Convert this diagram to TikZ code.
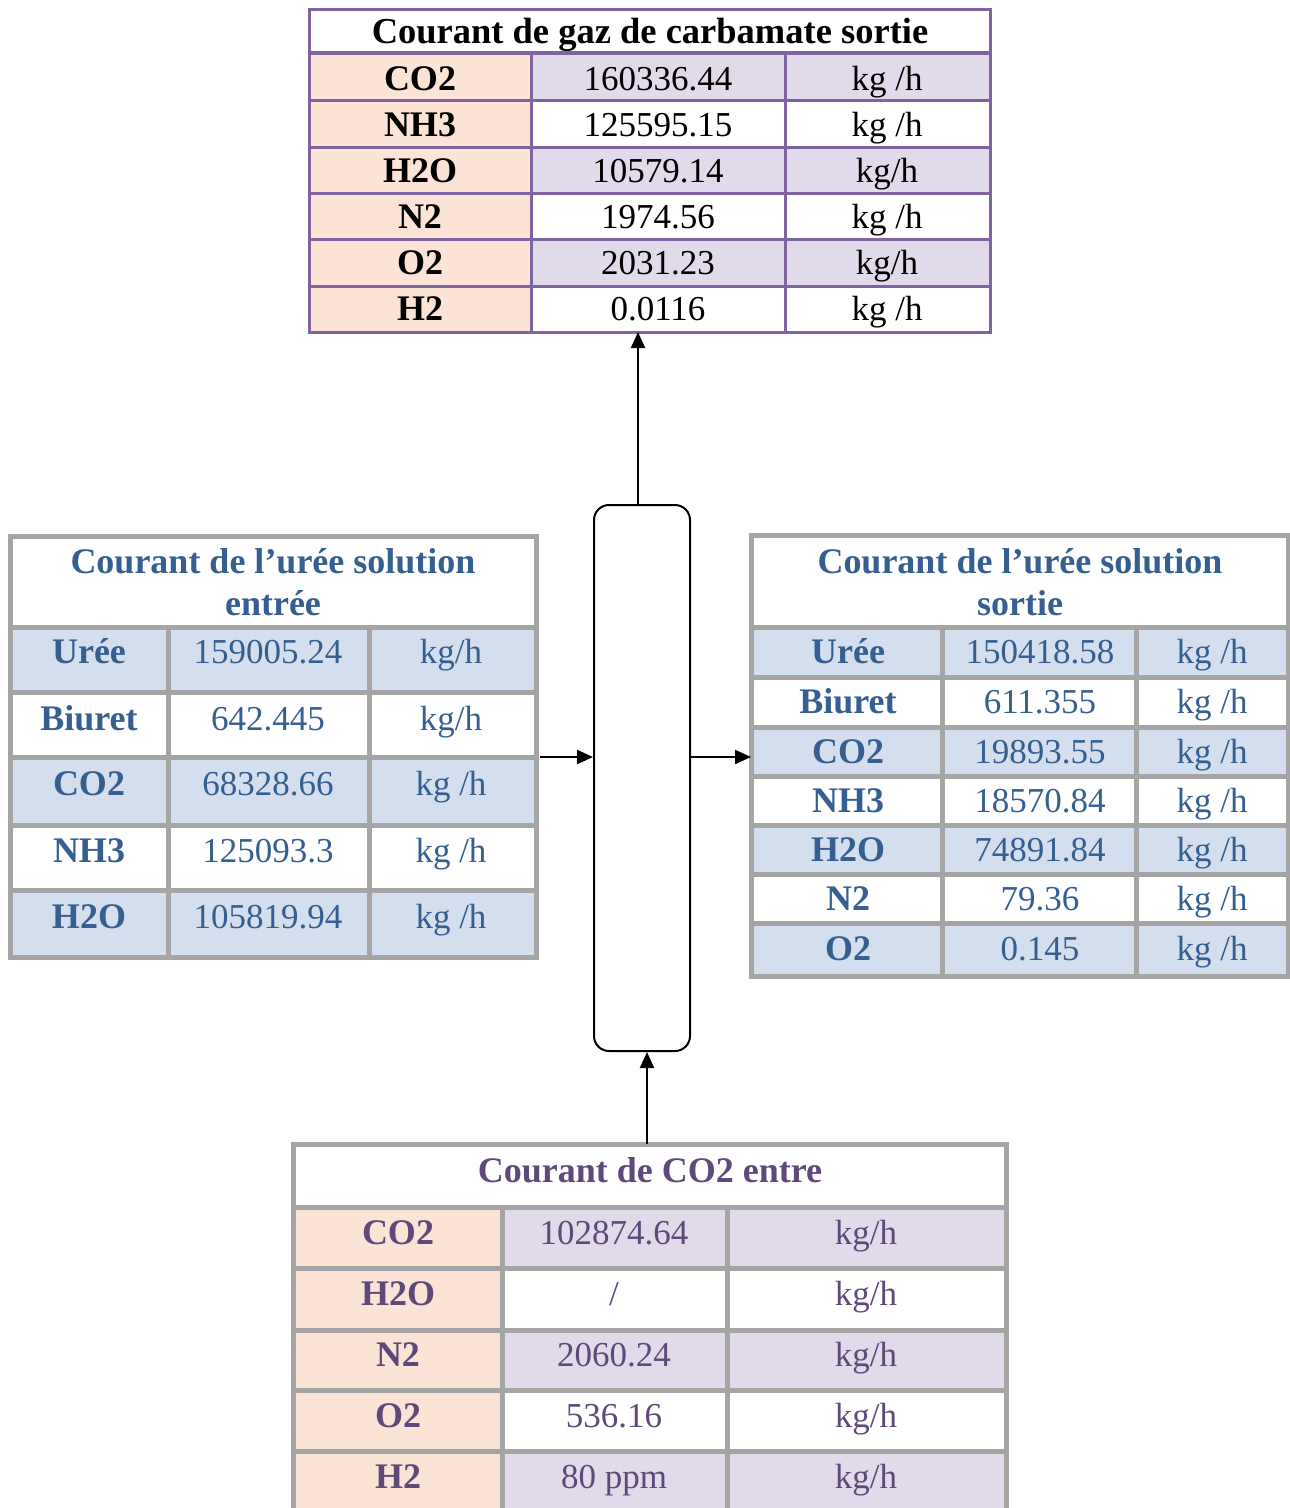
\documentclass[tikz,border=0pt]{standalone}
\usepackage{fontspec}
\setmainfont{Liberation Serif}
\usetikzlibrary{arrows.meta}
\definecolor{peach}{HTML}{FBE4D5}
\definecolor{lav}{HTML}{E0DAEA}
\definecolor{pborder}{HTML}{8064A2}
\definecolor{bfill}{HTML}{D3DFEE}
\definecolor{gborder}{HTML}{A5A5A5}
\definecolor{btext}{HTML}{365F91}
\definecolor{ptext}{HTML}{5F497A}
\newcommand\kgs{kg /h}
\newcommand\kgn{kg/h}
\begin{document}
\begin{tikzpicture}[x=1pt,y=-1pt,
  arr/.style={line width=2.2pt,-{Triangle[length=16pt,width=14pt]}},
  tabframe/.style={inner sep=0pt,outer sep=0pt,anchor=north west},
  ttxt/.style={anchor=base,inner sep=0pt,font=\fontsize{35}{40}\selectfont,text=black},
  tlab/.style={ttxt,font=\bfseries\fontsize{36}{40}\selectfont},
  stxt/.style={ttxt,text=btext},
  slab/.style={tlab,text=btext},
  btxt/.style={ttxt,text=ptext},
  blab/.style={tlab,text=ptext},
  ggrid/.style={gborder,line width=5pt},
  pgrid/.style={pborder,line width=3pt}]
\useasboundingbox (0,0) rectangle (1290,1508);
\clip (0,0) rectangle (1290,1508);

% ---------------- top table ----------------
\fill[peach] (309,53) rectangle (531,332);
\fill[lav] (531,53) rectangle (990,100);
\fill[lav] (531,147) rectangle (990,193);
\fill[lav] (531,239) rectangle (990,286);
\draw[pborder,line width=4.5pt] (309,53) -- (990,53);
\foreach \y in {100,147,193,239,286} \draw[pgrid] (309,\y) -- (990,\y);
\foreach \x in {531,785} \draw[pgrid] (\x,53) -- (\x,332);
\node[tabframe,draw=pborder,line width=3pt,minimum width=681pt,minimum height=323pt] (toptab) at (309,9) {};
\node[tlab,font=\bfseries\fontsize{36.5}{40}\selectfont] (toptitle) at (650,43) {Courant de gaz de carbamate sortie};
\foreach \lab/\val/\u/\yb [count=\i] in {CO2/160336.44/\kgs/90, NH3/125595.15/\kgs/136, H2O/10579.14/\kgn/182, N2/1974.56/\kgs/228, O2/2031.23/\kgn/274, H2/0.0116/\kgs/320}{
  \node[tlab] (T-\i-a) at (420,\yb) {\lab};
  \node[ttxt] (T-\i-b) at (658,\yb) {\val};
  \node[ttxt] (T-\i-c) at (887,\yb) {\u};
}

% ---------------- left table ----------------
\fill[bfill] (10,627) rectangle (536,692);
\fill[bfill] (10,757) rectangle (536,825);
\fill[bfill] (10,890) rectangle (536,957);
\foreach \y in {627,692,757,825,890} \draw[ggrid] (10,\y) -- (536,\y);
\foreach \x in {168,369} \draw[ggrid] (\x,627) -- (\x,957);
\node[tabframe,draw=gborder,line width=5pt,minimum width=526pt,minimum height=421pt] (lefttab) at (10,536) {};
\node[slab] (L-t1) at (273,573) {Courant de l’urée solution};
\node[slab] (L-t2) at (273,615) {entrée};
\foreach \lab/\val/\u/\yb [count=\i] in {Urée/159005.24/\kgn/663, Biuret/642.445/\kgn/730, CO2/68328.66/\kgs/795, NH3/125093.3/\kgs/862, H2O/105819.94/\kgs/928}{
  \node[slab] (L-\i-a) at (89,\yb) {\lab};
  \node[stxt] (L-\i-b) at (268,\yb) {\val};
  \node[stxt] (L-\i-c) at (451,\yb) {\u};
}

% ---------------- right table ----------------
\fill[bfill] (751,627) rectangle (1288,677);
\fill[bfill] (751,727) rectangle (1288,776);
\fill[bfill] (751,825) rectangle (1288,874);
\fill[bfill] (751,923) rectangle (1288,976);
\foreach \y in {627,677,727,776,825,874,923} \draw[ggrid] (751,\y) -- (1288,\y);
\foreach \x in {942,1136} \draw[ggrid] (\x,627) -- (\x,976);
\node[tabframe,draw=gborder,line width=5pt,minimum width=537pt,minimum height=441pt] (righttab) at (751,535) {};
\node[slab] (R-t1) at (1020,573) {Courant de l’urée solution};
\node[slab] (R-t2) at (1020,615) {sortie};
\foreach \lab/\val/\u/\yb [count=\i] in {Urée/150418.58/\kgs/663, Biuret/611.355/\kgs/713, CO2/19893.55/\kgs/763, NH3/18570.84/\kgs/812, H2O/74891.84/\kgs/861, N2/79.36/\kgs/910, O2/0.145/\kgs/960}{
  \node[slab] (R-\i-a) at (848,\yb) {\lab};
  \node[stxt] (R-\i-b) at (1040,\yb) {\val};
  \node[stxt] (R-\i-c) at (1212,\yb) {\u};
}

% ---------------- bottom table ----------------
\fill[peach] (293,1207) rectangle (502,1520);
\fill[lav] (502,1207) rectangle (1006,1268);
\fill[lav] (502,1330) rectangle (1006,1390);
\fill[lav] (502,1451) rectangle (1006,1520);
\foreach \y in {1207,1268,1330,1390,1451} \draw[ggrid] (293,\y) -- (1006,\y);
\foreach \x in {502,727} \draw[ggrid] (\x,1207) -- (\x,1520);
\node[tabframe,draw=gborder,line width=5pt,minimum width=713pt,minimum height=376pt] (bottab) at (293,1144) {};
\node[blab] (B-t) at (650,1182) {Courant de CO2 entre};
\foreach \lab/\val/\u/\yb [count=\i] in {CO2/102874.64/\kgn/1244, H2O/{/}/\kgn/1305, N2/2060.24/\kgn/1366, O2/536.16/\kgn/1427, H2/80 ppm/\kgn/1488}{
  \node[blab] (B-\i-a) at (398,\yb) {\lab};
  \node[btxt] (B-\i-b) at (614,\yb) {\val};
  \node[btxt] (B-\i-c) at (866,\yb) {\u};
}

% ---------------- vessel and streams ----------------
\node[draw,line width=2pt,rounded corners=15pt,minimum width=96pt,minimum height=546pt,inner sep=0pt] (vessel) at (642,778) {};
\coordinate (lin) at (540,757);
\draw[arr] ([xshift=-4pt]vessel.north) -- ([xshift=-4pt]vessel.north |- toptab.south);
\draw[arr] (lin) -- (lin -| vessel.west);
\draw[arr] (vessel.east |- lin) -- (lin -| righttab.west);
\draw[arr] ([xshift=5pt]vessel.south |- bottab.north) -- ([xshift=5pt]vessel.south);
\end{tikzpicture}
\end{document}
